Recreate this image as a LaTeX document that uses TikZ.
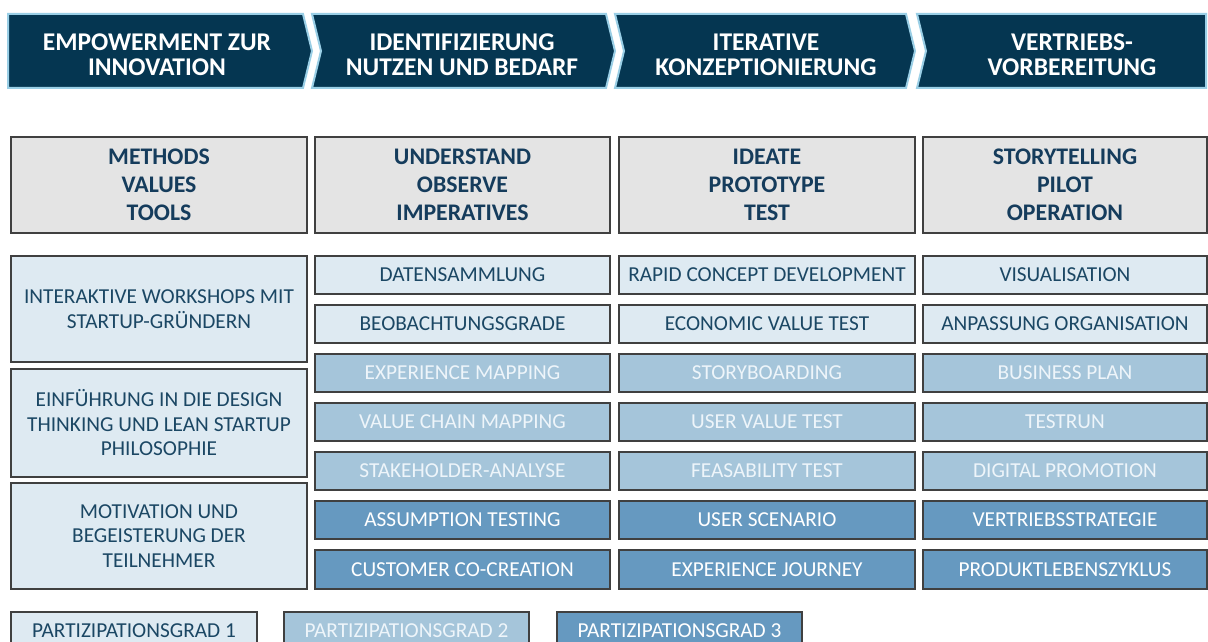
\documentclass[tikz,border=0pt]{standalone}
\usepackage{fontspec}
\setmainfont{Carlito}
\definecolor{navy}{HTML}{053651}
\definecolor{glow}{HTML}{9ACFE6}
\definecolor{lightfill}{HTML}{DEEAF2}
\definecolor{midfill}{HTML}{A5C5DA}
\definecolor{darkfill}{HTML}{6699C0}
\definecolor{grayfill}{HTML}{E4E4E4}
\definecolor{edge}{HTML}{404040}
\definecolor{txtdark}{HTML}{1B4764}
\definecolor{hdrtxt}{HTML}{153C5C}
\definecolor{midtxt}{HTML}{EEF5FA}
\tikzset{
  chev/.style={fill=navy, draw=glow, line width=2pt, line join=miter},
  chevtext/.style={text=white, align=center, font=\bfseries\fontsize{25.5}{25}\selectfont},
  cellbase/.style={draw=edge, line width=1.3pt, inner sep=0pt, align=center, font=\fontsize{21.3}{24.5}\selectfont},
  hdrbox/.style={cellbase, fill=grayfill, text=hdrtxt, font=\bfseries\fontsize{23.8}{28}\selectfont},
  lvlone/.style={cellbase, fill=lightfill, text=txtdark},
  lvltwo/.style={cellbase, fill=midfill, text=midtxt},
  lvlthree/.style={cellbase, fill=darkfill, text=white},
}
\newcommand\cellnode[7]{\node[#6, minimum width={(#3-#2)*1pt}, minimum height={(#5-#4)*1pt}] (#1) at ({(#2+#3)/2},{(#4+#5)/2}) {#7};}
\begin{document}
\begin{tikzpicture}[x=1pt,y=-1pt]
\clip (0,0) rectangle (1208,642);
\fill[white] (0,0) rectangle (1208,642);
% chevrons
\draw[chev] (8,14) -- (303,14) -- (312,51) -- (303,88) -- (8,88) -- cycle;
\draw[chev] (312,14) -- (606,14) -- (615,51) -- (606,88) -- (312,88) -- (321,51) -- cycle;
\draw[chev] (615,14) -- (906,14) -- (915,51) -- (906,88) -- (615,88) -- (624,51) -- cycle;
\draw[chev] (917,14) -- (1206,14) -- (1206,88) -- (917,88) -- (926,51) -- cycle;
\node[chevtext] (p1) at (157,55) {EMPOWERMENT ZUR\\INNOVATION};
\node[chevtext] (p2) at (462,55) {IDENTIFIZIERUNG\\NUTZEN UND BEDARF};
\node[chevtext] (p3) at (766,55) {ITERATIVE\\KONZEPTIONIERUNG};
\node[chevtext] (p4) at (1072,55) {VERTRIEBS-\\VORBEREITUNG};
% header boxes
\cellnode{h1}{11}{307}{137}{233}{hdrbox}{METHODS\\VALUES\\TOOLS}
\cellnode{h2}{315}{610}{137}{233}{hdrbox}{UNDERSTAND\\OBSERVE\\IMPERATIVES}
\cellnode{h3}{619}{915}{137}{233}{hdrbox}{IDEATE\\PROTOTYPE\\TEST}
\cellnode{h4}{923}{1207}{137}{233}{hdrbox}{STORYTELLING\\PILOT\\OPERATION}
% left column
\cellnode{l1}{11}{307}{256}{362}{lvlone}{INTERAKTIVE WORKSHOPS MIT\\STARTUP-GRÜNDERN}
\cellnode{l2}{11}{307}{369}{477}{lvlone}{EINFÜHRUNG IN DIE DESIGN\\THINKING UND LEAN STARTUP\\PHILOSOPHIE}
\cellnode{l3}{11}{307}{483}{589}{lvlone}{MOTIVATION UND\\BEGEISTERUNG DER\\TEILNEHMER}
% column 2
\cellnode{a1}{315}{610}{256}{294}{lvlone}{DATENSAMMLUNG}
\cellnode{a2}{315}{610}{305}{343}{lvlone}{BEOBACHTUNGSGRADE}
\cellnode{a3}{315}{610}{354}{392}{lvltwo}{EXPERIENCE MAPPING}
\cellnode{a4}{315}{610}{403}{441}{lvltwo}{VALUE CHAIN MAPPING}
\cellnode{a5}{315}{610}{452}{490}{lvltwo}{STAKEHOLDER-ANALYSE}
\cellnode{a6}{315}{610}{501}{539}{lvlthree}{ASSUMPTION TESTING}
\cellnode{a7}{315}{610}{550}{589}{lvlthree}{CUSTOMER CO-CREATION}
% column 3
\cellnode{b1}{619}{915}{256}{294}{lvlone}{RAPID CONCEPT DEVELOPMENT}
\cellnode{b2}{619}{915}{305}{343}{lvlone}{ECONOMIC VALUE TEST}
\cellnode{b3}{619}{915}{354}{392}{lvltwo}{STORYBOARDING}
\cellnode{b4}{619}{915}{403}{441}{lvltwo}{USER VALUE TEST}
\cellnode{b5}{619}{915}{452}{490}{lvltwo}{FEASABILITY TEST}
\cellnode{b6}{619}{915}{501}{539}{lvlthree}{USER SCENARIO}
\cellnode{b7}{619}{915}{550}{589}{lvlthree}{EXPERIENCE JOURNEY}
% column 4
\cellnode{c1}{923}{1207}{256}{294}{lvlone}{VISUALISATION}
\cellnode{c2}{923}{1207}{305}{343}{lvlone}{ANPASSUNG ORGANISATION}
\cellnode{c3}{923}{1207}{354}{392}{lvltwo}{BUSINESS PLAN}
\cellnode{c4}{923}{1207}{403}{441}{lvltwo}{TESTRUN}
\cellnode{c5}{923}{1207}{452}{490}{lvltwo}{DIGITAL PROMOTION}
\cellnode{c6}{923}{1207}{501}{539}{lvlthree}{VERTRIEBSSTRATEGIE}
\cellnode{c7}{923}{1207}{550}{589}{lvlthree}{PRODUKTLEBENSZYKLUS}
% legend
\cellnode{g1}{11}{257}{612}{650}{lvlone}{PARTIZIPATIONSGRAD 1}
\cellnode{g2}{284}{529}{612}{650}{lvltwo}{PARTIZIPATIONSGRAD 2}
\cellnode{g3}{557}{802}{612}{650}{lvlthree}{PARTIZIPATIONSGRAD 3}
\end{tikzpicture}
\end{document}
